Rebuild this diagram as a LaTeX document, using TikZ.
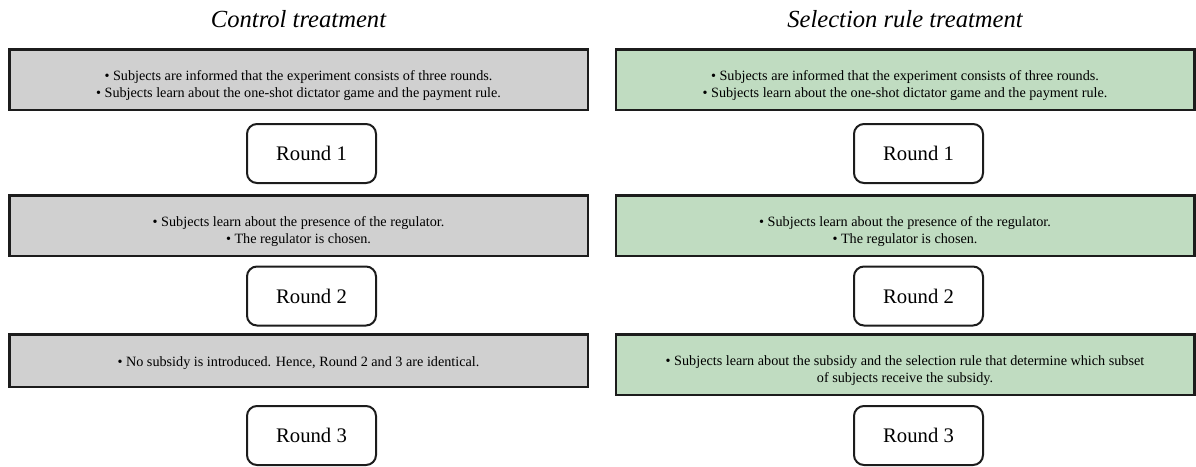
\documentclass[tikz,border=0pt]{standalone}
\usepackage{fontspec}
\setmainfont{Liberation Serif}
\definecolor{ctrlgray}{RGB}{208,208,208}
\definecolor{selgreen}{RGB}{192,220,193}
\definecolor{edge}{RGB}{28,28,28}

\begin{document}
\begin{tikzpicture}[x=1pt, y=-1pt,
  infobox/.style={draw=edge, line width=2.5pt, minimum width=578.5pt, minimum height=60.5pt, inner sep=0pt},
  infotext/.style={align=center, font=\fontsize{14.2}{17}\selectfont, inner sep=0pt},
  roundbox/.style={draw=edge, rounded corners=10pt, line width=2pt, minimum width=129pt, minimum height=59pt, font=\fontsize{20.7}{24}\selectfont},
  headline/.style={font=\fontsize{24.6}{28}\selectfont\itshape, anchor=base}]
\useasboundingbox (0,0) rectangle (1196,466);

% titles
\node[headline] (ctrl-title) at (298.5,27) {Control treatment};
\node[headline] (sel-title) at (905,27) {Selection rule treatment};

% control treatment
\begin{scope}
  \node[infobox, fill=ctrlgray] (ctrl-a) at (298.5,79.5) {};
  \node[infotext] (ctrl-at) at ([yshift=-6pt]ctrl-a.center)
    {• Subjects are informed that the experiment consists of three rounds.\\
     • Subjects learn about the one-shot dictator game and the payment rule.};

  \node[infobox, fill=ctrlgray] (ctrl-b) at (298.5,225.5) {};
  \node[infotext] (ctrl-bt) at ([yshift=-6pt]ctrl-b.center)
    {• Subjects learn about the presence of the regulator.\\
     • The regulator is chosen.};

  \node[infobox, fill=ctrlgray, minimum height=52.5pt] (ctrl-c) at (298.5,360.5) {};
  \node[infotext] (ctrl-ct) at ([yshift=-2.5pt]ctrl-c.center)
    {• No subsidy is introduced. Hence, Round 2 and 3 are identical.};

  \foreach \i/\y in {1/153.5, 2/296, 3/435.5}
    \node[roundbox] (ctrl-r\i) at (311.5,\y) {Round \i};
\end{scope}

% selection rule treatment
\begin{scope}
  \node[infobox, fill=selgreen] (sel-a) at (905,79.5) {};
  \node[infotext] (sel-at) at ([yshift=-6pt]sel-a.center)
    {• Subjects are informed that the experiment consists of three rounds.\\
     • Subjects learn about the one-shot dictator game and the payment rule.};

  \node[infobox, fill=selgreen] (sel-b) at (905,225.5) {};
  \node[infotext] (sel-bt) at ([yshift=-6pt]sel-b.center)
    {• Subjects learn about the presence of the regulator.\\
     • The regulator is chosen.};

  \node[infobox, fill=selgreen] (sel-c) at (905,364.5) {};
  \node[infotext] (sel-ct) at ([yshift=-6.5pt]sel-c.center)
    {• Subjects learn about the subsidy and the selection rule that determine which subset\\
     of subjects receive the subsidy.};

  \foreach \i/\y in {1/153.5, 2/296, 3/435.5}
    \node[roundbox] (sel-r\i) at (918.5,\y) {Round \i};
\end{scope}
\end{tikzpicture}
\end{document}
